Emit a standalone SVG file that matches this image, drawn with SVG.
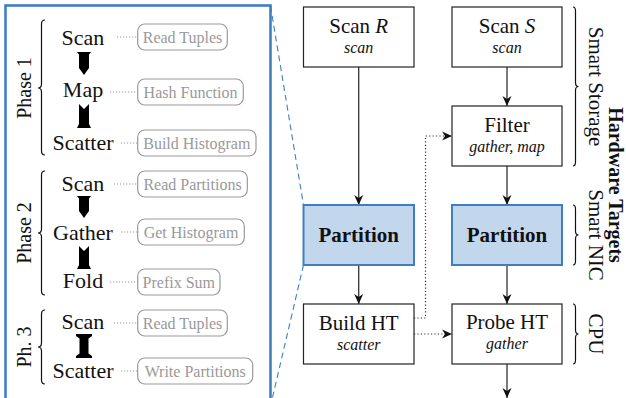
<svg xmlns="http://www.w3.org/2000/svg" width="626" height="398" viewBox="0 0 626 398" font-family="'Liberation Serif', 'Times New Roman', 'DejaVu Serif', serif">
<style>
text{font-family:'Liberation Serif','Times New Roman','DejaVu Serif',serif;fill:#111}
.op{font-size:22px;text-anchor:middle}
.lb{font-size:16px;text-anchor:middle;fill:#999}
.lbox{fill:#fff;stroke:#9a9a9a;stroke-width:1.2}
.gdot{stroke:#999;stroke-width:1.1;stroke-dasharray:1.2 1.8;fill:none}
.blk{fill:#000}
.brace{fill:none;stroke:#111;stroke-width:1.2}
.ph{font-size:20px;text-anchor:middle}
.box{fill:#fff;stroke:#222;stroke-width:1.2}
.pbox{fill:#c2d7eb;stroke:#3f7fbf;stroke-width:2}
.t{font-size:21px;text-anchor:middle}
.s{font-size:16px;font-style:italic;text-anchor:middle}
.b{font-size:21px;font-weight:bold;text-anchor:middle}
.edge{stroke:#333;stroke-width:1.3;fill:none;marker-end:url(#ah)}
.dedge{stroke:#333;stroke-width:1.2;stroke-dasharray:1.2 2.2;fill:none;marker-end:url(#ah)}
.hw{font-size:21px;text-anchor:middle}
.hwb{font-size:20px;font-weight:bold;text-anchor:middle}
.dash{stroke:#3f7fbf;stroke-width:1.1;stroke-dasharray:6 4;fill:none}
</style>
<defs>
<marker id="ah" markerUnits="userSpaceOnUse" markerWidth="10" markerHeight="10" viewBox="0 0 10 10" refX="10" refY="5" orient="auto">
<path d="M0,0.5 L10,5 L0,9.5 L3,5 z" fill="#111"/>
</marker>
</defs>

<g id="panel">
<rect x="5.5" y="5.5" width="265" height="410" fill="#fff" stroke="#3f7fc1" stroke-width="2.6"/>
</g>
<g id="zoom-lines">
<line class="dash" x1="270.5" y1="6" x2="303.5" y2="205"/>
<line class="dash" x1="303.5" y1="265" x2="270.5" y2="406"/>
</g>

<g id="phase1">
<path class="brace" d="M45,20 Q41.5,20 41.5,24 L41.5,84 Q41.5,88 38,88 Q41.5,88 41.5,92 L41.5,151 Q41.5,155 45,155"/>
<text class="ph" transform="translate(31,88) rotate(-90)">Phase 1</text>
<g id="p1-scan"><text class="op" x="83" y="45">Scan</text></g>
<g id="p1-map"><text class="op" x="83" y="97">Map</text></g>
<g id="p1-scatter"><text class="op" x="83" y="150">Scatter</text></g>
<polygon class="blk" points="77,52 91,52 89,54.5 89,68 84,75 79,68 79,54.5"/>
<polygon class="blk" points="79,104 84,109 89,104 89,124 91,128 77,128 79,124"/>
<g id="p1-l1"><rect class="lbox" x="137.7" y="24" width="89.6" height="26" rx="7"/><text class="lb" x="182.5" y="42.5">Read Tuples</text></g>
<g id="p1-l2"><rect class="lbox" x="137.7" y="79" width="105.6" height="26" rx="7"/><text class="lb" x="190.5" y="97.5">Hash Function</text></g>
<g id="p1-l3"><rect class="lbox" x="137.7" y="130" width="118.3" height="26" rx="7"/><text class="lb" x="196.8" y="148.5">Build Histogram</text></g>
</g>

<g id="phase2">
<path class="brace" d="M45,171 Q41.5,171 41.5,175 L41.5,229 Q41.5,233 38,233 Q41.5,233 41.5,237 L41.5,291 Q41.5,295 45,295"/>
<text class="ph" transform="translate(31,233) rotate(-90)">Phase 2</text>
<g id="p2-scan"><text class="op" x="83" y="191">Scan</text></g>
<g id="p2-gather"><text class="op" x="83" y="240">Gather</text></g>
<g id="p2-fold"><text class="op" x="83" y="288">Fold</text></g>
<polygon class="blk" points="77,196 91,196 89,198.5 89,211 84,218 79,211 79,198.5"/>
<polygon class="blk" points="79,246 84,251 89,246 89,265 91,269 77,269 79,265"/>
<g id="p2-l1"><rect class="lbox" x="137.7" y="171" width="109.6" height="26" rx="7"/><text class="lb" x="192.5" y="189.5">Read Partitions</text></g>
<g id="p2-l2"><rect class="lbox" x="137.7" y="219" width="106.6" height="26" rx="7"/><text class="lb" x="191" y="237.5">Get Histogram</text></g>
<g id="p2-l3"><rect class="lbox" x="137.7" y="269" width="82.3" height="26" rx="7"/><text class="lb" x="178.8" y="287.5">Prefix Sum</text></g>
</g>

<g id="phase3">
<path class="brace" d="M45,310 Q41.5,310 41.5,314 L41.5,343 Q41.5,347 38,347 Q41.5,347 41.5,351 L41.5,380 Q41.5,384 45,384"/>
<text class="ph" transform="translate(31,347) rotate(-90)">Ph. 3</text>
<g id="p3-scan"><text class="op" x="83" y="329">Scan</text></g>
<g id="p3-scatter"><text class="op" x="83" y="378">Scatter</text></g>
<polygon class="blk" points="76,334 92,334 92,336 88.5,338.5 88.5,353.5 92,356 92,358 76,358 76,356 79.5,353.5 79.5,338.5 76,336"/>
<g id="p3-l1"><rect class="lbox" x="137.7" y="310" width="89.6" height="26" rx="7"/><text class="lb" x="182.5" y="328.5">Read Tuples</text></g>
<g id="p3-l2"><rect class="lbox" x="137.7" y="358" width="115" height="26" rx="7"/><text class="lb" x="195.2" y="376.5">Write Partitions</text></g>
</g>

<g id="label-links">
<line class="gdot" x1="117" y1="37" x2="137.7" y2="37"/>
<line class="gdot" x1="110" y1="92" x2="137.7" y2="92"/>
<line class="gdot" x1="121" y1="143" x2="137.7" y2="143"/>
<line class="gdot" x1="114" y1="184" x2="137.7" y2="184"/>
<line class="gdot" x1="121" y1="232" x2="137.7" y2="232"/>
<line class="gdot" x1="110" y1="282" x2="137.7" y2="282"/>
<line class="gdot" x1="114" y1="323" x2="137.7" y2="323"/>
<line class="gdot" x1="121" y1="371" x2="137.7" y2="371"/>
</g>

<g id="connectors">
<line class="edge" x1="358.7" y1="67" x2="358.7" y2="205"/>
<line class="edge" x1="507" y1="67" x2="507" y2="106"/>
<line class="edge" x1="507" y1="166" x2="507" y2="205"/>
<line class="edge" x1="358.7" y1="265" x2="358.7" y2="304"/>
<line class="edge" x1="507" y1="265" x2="507" y2="304"/>
<line class="edge" x1="507" y1="364" x2="507" y2="398"/>
<polyline class="dedge" points="414,318 425.5,318 425.5,136 452,136"/>
<line class="dedge" x1="414" y1="334" x2="452" y2="334"/>
</g>

<g id="scan-r"><rect class="box" x="303.5" y="7" width="110.5" height="60"/>
<text class="t" x="358.7" y="33">Scan <tspan font-style="italic">R</tspan></text><text class="s" x="358.7" y="53">scan</text></g>
<g id="scan-s"><rect class="box" x="452" y="7" width="110" height="60"/>
<text class="t" x="507" y="33">Scan <tspan font-style="italic">S</tspan></text><text class="s" x="507" y="53">scan</text></g>
<g id="filter"><rect class="box" x="452" y="106" width="110" height="60"/>
<text class="t" x="507" y="132">Filter</text><text class="s" x="507" y="152">gather, map</text></g>
<g id="partition-r"><rect class="pbox" x="303.5" y="205" width="110.5" height="60"/>
<text class="b" x="358.7" y="242">Partition</text></g>
<g id="partition-s"><rect class="pbox" x="452" y="205" width="110" height="60"/>
<text class="b" x="507" y="242">Partition</text></g>
<g id="build-ht"><rect class="box" x="303.5" y="304" width="110.5" height="60"/>
<text class="t" x="358.7" y="330">Build HT</text><text class="s" x="358.7" y="350">scatter</text></g>
<g id="probe-ht"><rect class="box" x="452" y="304" width="110" height="60"/>
<text class="t" x="507" y="329">Probe HT</text><text class="s" x="507" y="349">gather</text></g>

<g id="targets">
<path class="brace" d="M573,7 Q575.5,7 575.5,11 L575.5,82.5 Q575.5,86.5 578.5,86.5 Q575.5,86.5 575.5,90.5 L575.5,162 Q575.5,166 573,166"/>
<path class="brace" d="M573,205 Q575.5,205 575.5,209 L575.5,231 Q575.5,235 578.5,235 Q575.5,235 575.5,239 L575.5,261 Q575.5,265 573,265"/>
<path class="brace" d="M573,304 Q575.5,304 575.5,308 L575.5,330 Q575.5,334 578.5,334 Q575.5,334 575.5,338 L575.5,360 Q575.5,364 573,364"/>
<text class="hw" transform="translate(589,86.5) rotate(90)">Smart Storage</text>
<text class="hw" transform="translate(589,235) rotate(90)">Smart NIC</text>
<text class="hw" transform="translate(589,334) rotate(90)">CPU</text>
<text class="hwb" transform="translate(609,185) rotate(90)">Hardware Targets</text>
</g>
</svg>
